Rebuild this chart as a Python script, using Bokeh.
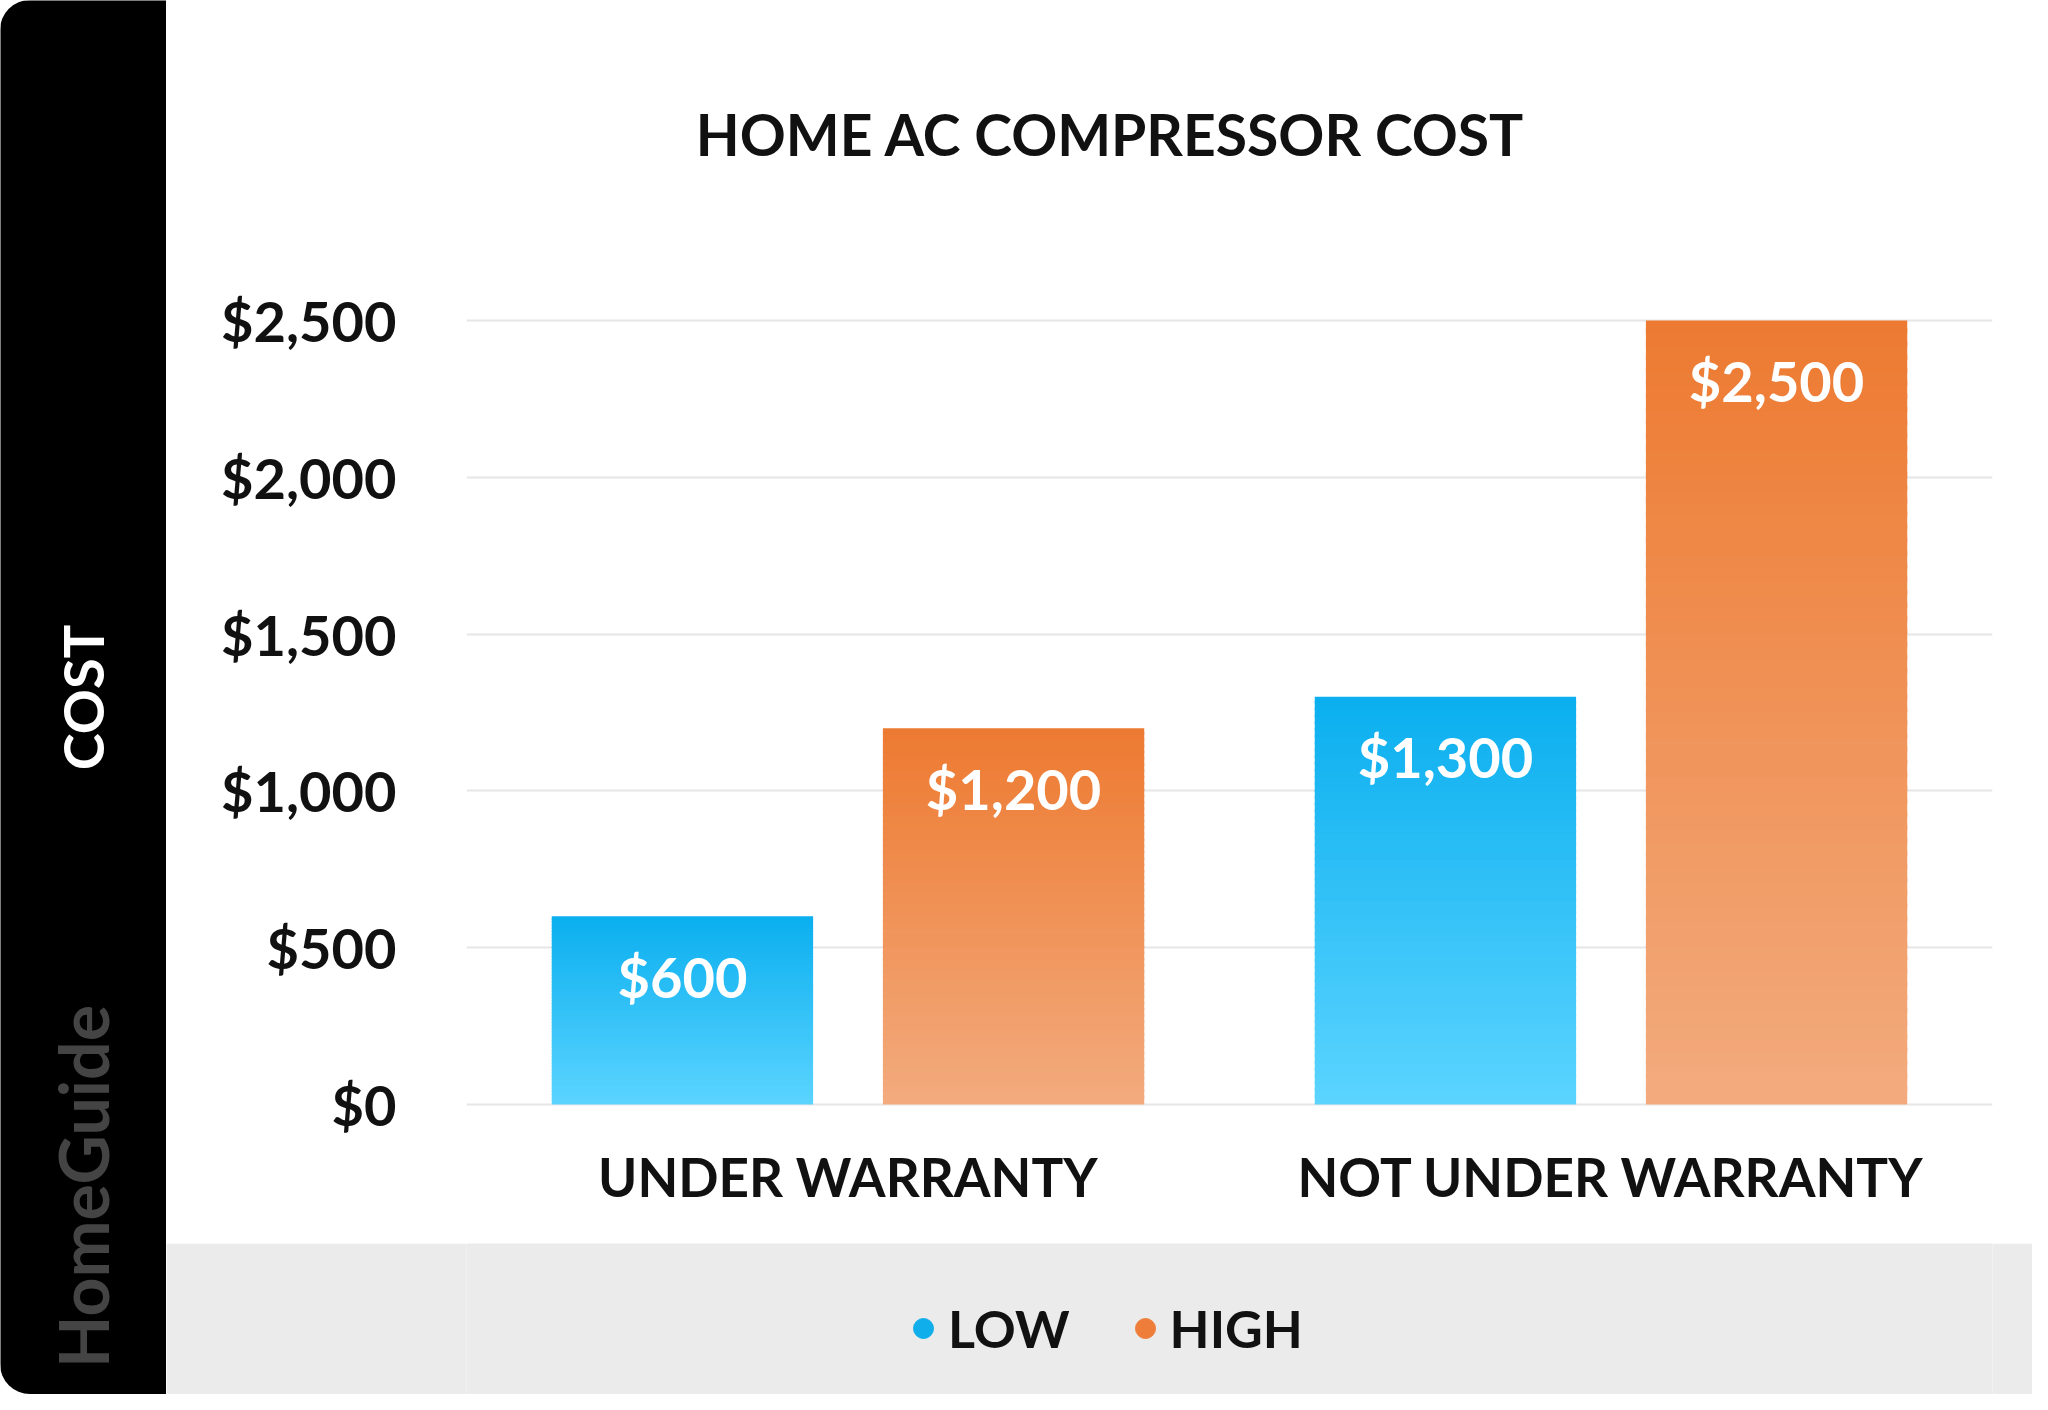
from bokeh.plotting import figure
from bokeh.models import (ColumnDataSource, FactorRange, Range1d, NumeralTickFormatter,
                          LabelSet, Label, Legend, LegendItem)
from bokeh.transform import dodge
from bokeh.core.properties import value
from bokeh.layouts import row, column
from bokeh.embed import file_html
from bokeh.resources import INLINE

# ---- data ----
categories = ["UNDER WARRANTY", "NOT UNDER WARRANTY"]
low_values = [600, 1300]
high_values = [1200, 2500]
series_names = ["LOW", "HIGH"]
y_ticks = [0, 500, 1000, 1500, 2000, 2500]

# ---- style / layout ----
FONT = "Lato"
BLUE_TOP, BLUE_BOTTOM = (11, 175, 239), (91, 212, 255)
ORANGE_TOP, ORANGE_BOTTOM = (237, 122, 49), (243, 171, 126)
W, H = 2032, 1394
SIDE_W = 166
MAIN_H = 1243
MAIN_W = W - SIDE_W
LEG_H = H - MAIN_H
FRAME_LEFT = 466            # absolute x of the plot frame (shared by the legend band)
PX_PER_UNIT = (1104 - 320) / 2500.0
FRAME_H = 1106
Y_START = -2 / PX_PER_UNIT
Y_END = Y_START + FRAME_H / PX_PER_UNIT

# ---------------- side strip ----------------
side = figure(width=SIDE_W, height=H, x_range=Range1d(0, SIDE_W), y_range=Range1d(0, H),
              toolbar_location=None, output_backend="svg", x_axis_location=None,
              y_axis_location=None, min_border=0, title=None,
              styles={"border-radius": "30px 0 0 30px", "overflow": "hidden"})
side.background_fill_color = "black"
side.border_fill_color = "black"
side.outline_line_color = None
side.grid.visible = False
side.add_layout(Label(x=82, y=H - 697, text="COST", angle=1.5707963,
                      text_align="center", text_baseline="middle", text_font=FONT,
                      text_font_style="bold", text_font_size="56px", text_color="white"))
side.add_layout(Label(x=82, y=H - 1186, text="HomeGuide", angle=1.5707963,
                      text_align="center", text_baseline="middle", text_font=FONT,
                      text_font_style="bold", text_font_size="68px", text_color="#444444"))

# ---------------- main chart ----------------
p = figure(x_range=FactorRange(*categories, range_padding=0),
           y_range=Range1d(Y_START, Y_END),
           width=MAIN_W, height=MAIN_H, title=None, toolbar_location=None,
           output_backend="svg", min_border_left=FRAME_LEFT - SIDE_W,
           min_border_right=W - 1992, min_border_top=0,
           min_border_bottom=MAIN_H - FRAME_H)
p.outline_line_color = None
p.background_fill_color = "white"
p.border_fill_color = "white"

def gradient_source(values, top_rgb, bottom_rgb, n=60):
    xs, bottoms, tops, colors = [], [], [], []
    for cat, v in zip(categories, values):
        for k in range(n):
            t = (k + 0.5) / n
            c = tuple(int(round(b + (tp - b) * t)) for b, tp in zip(bottom_rgb, top_rgb))
            xs.append(cat)
            bottoms.append(v * k / n)
            tops.append(v * min(k + 1.4, n) / n)
            colors.append("#%02x%02x%02x" % c)
    return ColumnDataSource(dict(x=xs, bottom=bottoms, top=tops, color=colors))

OFF = 0.217
BW = 0.3425
low_src = gradient_source(low_values, BLUE_TOP, BLUE_BOTTOM)
high_src = gradient_source(high_values, ORANGE_TOP, ORANGE_BOTTOM)
p.vbar(x=dodge("x", -OFF, range=p.x_range), bottom="bottom", top="top", width=BW,
       source=low_src, fill_color="color", line_color=None)
p.vbar(x=dodge("x", OFF, range=p.x_range), bottom="bottom", top="top", width=BW,
       source=high_src, fill_color="color", line_color=None)

low_lab = ColumnDataSource(dict(x=categories, y=low_values,
                                text=["$" + format(v, ",") for v in low_values]))
high_lab = ColumnDataSource(dict(x=categories, y=high_values,
                                 text=["$" + format(v, ",") for v in high_values]))
for src, off in ((low_lab, -OFF), (high_lab, OFF)):
    p.add_layout(LabelSet(x=dodge("x", off, range=p.x_range), y="y", text="text",
                          source=src, y_offset=-60, text_align="center",
                          text_baseline="middle", text_color="white",
                          text_font=value(FONT), text_font_style="bold",
                          text_font_size="56px"))

p.yaxis.ticker = y_ticks
p.yaxis.formatter = NumeralTickFormatter(format="$0,0")
p.yaxis.major_label_text_font = FONT
p.yaxis.major_label_text_font_style = "bold"
p.yaxis.major_label_text_font_size = "56px"
p.yaxis.major_label_text_color = "#111111"
p.yaxis.major_label_standoff = 64
p.yaxis.major_tick_line_color = None
p.yaxis.minor_tick_line_color = None
p.yaxis.axis_line_color = None

p.xaxis.major_label_text_font = FONT
p.xaxis.major_label_text_font_style = "bold"
p.xaxis.major_label_text_font_size = "53px"
p.xaxis.major_label_text_color = "#111111"
p.xaxis.major_label_standoff = 32
p.xaxis.major_tick_line_color = None
p.xaxis.axis_line_color = None

p.xgrid.grid_line_color = None
p.ygrid.grid_line_color = "#e6e6e6"
p.ygrid.grid_line_width = 2

p.add_layout(Label(x=1110 - FRAME_LEFT, y=1104 - 131, x_units="screen", y_units="screen",
                   text="HOME AC COMPRESSOR COST", text_align="center",
                   text_baseline="middle", text_font=FONT, text_font_style="bold",
                   text_font_size="57px", text_color="#111111"))

# ---------------- legend band ----------------
leg = figure(width=MAIN_W, height=LEG_H, x_range=Range1d(0, 1), y_range=Range1d(0, 1),
             toolbar_location=None, output_backend="svg", x_axis_location=None,
             y_axis_location=None, min_border=0, title=None)
leg.background_fill_color = "#ebebeb"
leg.border_fill_color = "#ebebeb"
leg.outline_line_color = None
leg.grid.visible = False
# legend-only renderers: the series values lie far outside this band's 0..1 range
r_low = leg.scatter(x=low_values, y=low_values, marker="circle", size=20, color="#10aeea")
r_high = leg.scatter(x=high_values, y=high_values, marker="circle", size=20, color="#ee7d3a")
legend = Legend(items=[LegendItem(label=series_names[0], renderers=[r_low]),
                       LegendItem(label=series_names[1], renderers=[r_high])],
                orientation="horizontal", location=(898 - FRAME_LEFT, 35),
                glyph_width=50, glyph_height=50, label_standoff=0, spacing=50,
                label_text_font=FONT, label_text_font_style="bold",
                label_text_font_size="52px", label_text_color="#111111",
                background_fill_alpha=0, border_line_color=None, padding=0, margin=0)
leg.add_layout(legend, "center")

layout = row(side, column(p, leg, spacing=0), spacing=0)
open("out.html", "w").write(file_html(layout, INLINE))
